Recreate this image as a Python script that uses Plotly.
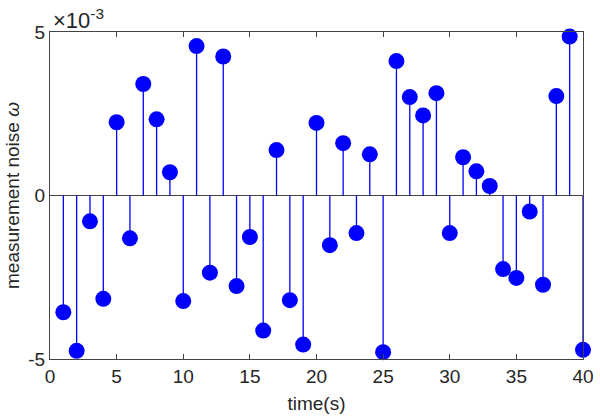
import plotly.graph_objects as go

t = list(range(1, 41))
noise_e3 = [-3.57, -4.75, -0.79, -3.16, 2.24, -1.31, 3.41, 2.33, 0.71, -3.23,
            4.57, -2.36, 4.25, -2.77, -1.27, -4.13, 1.39, -3.20, -4.56, 2.22,
            -1.52, 1.60, -1.15, 1.26, -4.79, 4.11, 3.01, 2.45, 3.13, -1.15,
            1.17, 0.74, 0.29, -2.25, -2.52, -0.49, -2.73, 3.04, 4.86, -4.72]
noise = [v * 1e-3 for v in noise_e3]

x_ticks = [0, 5, 10, 15, 20, 25, 30, 35, 40]
y_ticks = [-0.005, 0, 0.005]
y_ticklabels = ["-5", "0", "5"]

stem_x, stem_y = [], []
for xi, yi in zip(t, noise):
    stem_x += [xi, xi, None]
    stem_y += [0, yi, None]

axis_col = "#444444"
text_col = "#262626"
font_family = "Liberation Sans, Arial, Helvetica, sans-serif"

fig = go.Figure()
fig.add_trace(go.Scatter(x=[0, 40], y=[0, 0], mode="lines",
                         line=dict(color=axis_col, width=1.2), hoverinfo="skip", showlegend=False))
fig.add_trace(go.Scatter(x=stem_x, y=stem_y, mode="lines",
                         line=dict(color="#0000FF", width=1.3), hoverinfo="skip", showlegend=False))
fig.add_trace(go.Scatter(x=t, y=noise, mode="markers",
                         marker=dict(color="#0000FF", size=16, line=dict(width=0)),
                         showlegend=False, cliponaxis=False))

fig.update_layout(
    width=600, height=419,
    margin=dict(l=50, r=17, t=32, b=60, autoexpand=False),
    paper_bgcolor="white", plot_bgcolor="white",
    font=dict(family=font_family, size=19, color=text_col),
    showlegend=False,
    xaxis=dict(range=[0, 40], tickvals=x_ticks, ticks="inside", ticklen=5,
               tickcolor=axis_col, showline=True, linecolor=axis_col, linewidth=1.2,
               mirror="ticks", showgrid=False, zeroline=False, automargin=False,
               title=dict(text="time(s)", font=dict(size=19), standoff=10),
               tickfont=dict(size=19)),
    yaxis=dict(range=[-0.005, 0.005], tickvals=y_ticks, ticktext=y_ticklabels,
               ticks="inside", ticklen=5, tickcolor=axis_col, showline=True,
               linecolor=axis_col, linewidth=1.2, mirror="ticks", showgrid=False,
               zeroline=False, automargin=False,
               title=dict(text="measurement noise <i>ω</i>", font=dict(size=19), standoff=3),
               tickfont=dict(size=19)),
)

fig.add_annotation(x=0, y=1, xref="paper", yref="paper", xanchor="left", yanchor="bottom",
                   text="×10<sup>-3</sup>", showarrow=False, xshift=1, yshift=-3,
                   font=dict(size=22, color=text_col))

fig.write_html("out.html")
